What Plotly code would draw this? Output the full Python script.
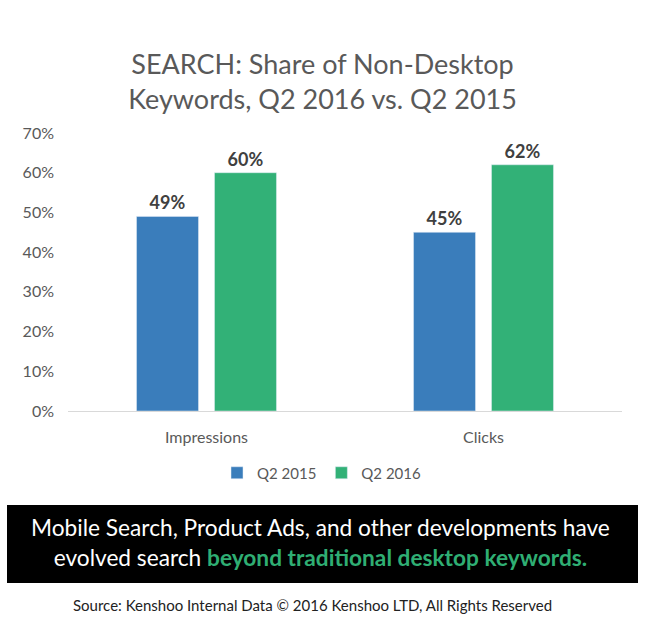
import plotly.graph_objects as go

categories = ["Impressions", "Clicks"]
series_names = ["Q2 2015", "Q2 2016"]
q2_2015 = [0.49, 0.45]
q2_2016 = [0.60, 0.62]
label_2015 = ["49%", "45%"]
label_2016 = ["60%", "62%"]
tick_vals = [0, 0.1, 0.2, 0.3, 0.4, 0.5, 0.6, 0.7]
tick_text = ["0%", "10%", "20%", "30%", "40%", "50%", "60%", "70%"]

BLUE = "#3a7dbb"
GREEN = "#32b177"
FONT = "Lato"

L, R, T, B = 68, 622, 133, 411
PW, PH = R - L, B - T


def px(x):
    return (x - L) / PW


def py(y):
    return (B - y) / PH


fig = go.Figure()
fig.add_trace(go.Bar(
    name=series_names[0], x=categories, y=q2_2015, marker_color=BLUE,
    text=label_2015, textposition="outside", cliponaxis=False,
    textfont=dict(family=FONT, size=18, color="#404040", weight="bold"),
))
fig.add_trace(go.Bar(
    name=series_names[1], x=categories, y=q2_2016, marker_color=GREEN,
    text=label_2016, textposition="outside", cliponaxis=False,
    textfont=dict(family=FONT, size=18, color="#404040", weight="bold"),
))

fig.update_layout(
    width=645, height=630,
    margin=dict(l=L, r=645 - R, t=T, b=630 - B),
    paper_bgcolor="white", plot_bgcolor="white",
    barmode="group", bargap=0.437, bargroupgap=0.205,
    font=dict(family=FONT, color="#595959"),
    title=dict(
        text="SEARCH: Share of Non-Desktop<br>Keywords, Q2 2016 vs. Q2 2015",
        x=0.5, xref="container", xanchor="center",
        y=1 - 74 / 630, yref="container", yanchor="middle",
        font=dict(family=FONT, size=27, color="#595959"),
    ),
    showlegend=True,
    legend=dict(
        orientation="h", x=px(322), xanchor="center", y=py(473), yanchor="middle",
        font=dict(family=FONT, size=15, color="#595959"),
        itemwidth=30, traceorder="normal",
    ),
    xaxis=dict(
        showline=True, linecolor="#d9d9d9", linewidth=1, ticks="",
        tickfont=dict(family=FONT, size=16, color="#595959"),
        showgrid=False, ticklabelstandoff=12,
    ),
    yaxis=dict(
        range=[0, 0.7], tickvals=tick_vals, ticktext=tick_text,
        showgrid=False, zeroline=False, showline=False,
        tickfont=dict(family=FONT, size=16, color="#595959"),
        ticklabelstandoff=13,
    ),
)

# black banner
fig.add_shape(
    type="rect", xref="paper", yref="paper",
    x0=px(7), x1=px(638), y0=py(583), y1=py(505),
    fillcolor="black", line=dict(width=0), layer="above",
)
fig.add_annotation(
    xref="paper", yref="paper", x=px(320), y=py(542),
    xanchor="center", yanchor="middle", showarrow=False,
    text=("Mobile Search, Product Ads, and other developments have<br>"
          "evolved search <span style='color:#2fae73'><b>beyond traditional desktop keywords.</b></span>"),
    font=dict(family=FONT, size=22.7, color="white"),
    align="center",
)
fig.add_annotation(
    xref="paper", yref="paper", x=px(312), y=py(605),
    xanchor="center", yanchor="middle", showarrow=False,
    text="Source: Kenshoo Internal Data © 2016 Kenshoo LTD, All Rights Reserved",
    font=dict(family=FONT, size=15, color="#222222"),
)

fig.write_html("out.html")
